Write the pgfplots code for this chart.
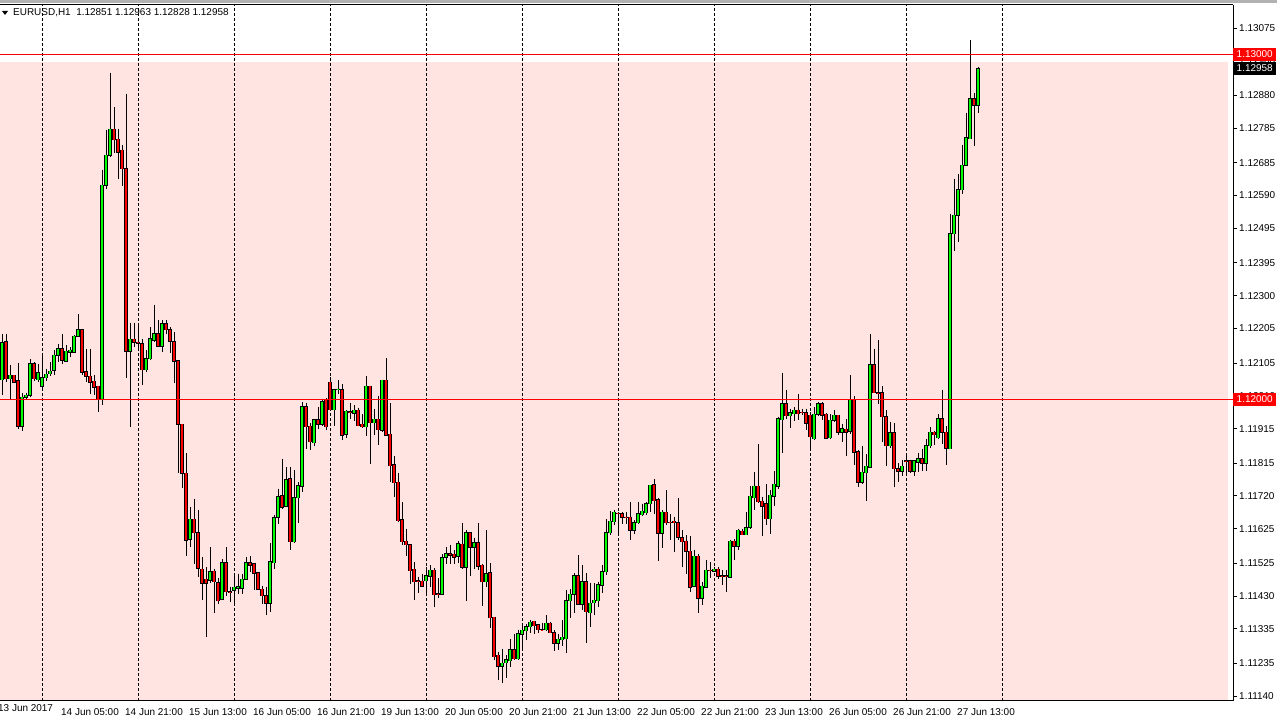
\documentclass[border=0pt]{standalone}
\usepackage{pgfplots}
\pgfplotsset{compat=1.18}
\usepackage{pgfplotstable}
\usepackage{fontspec}
\setmainfont{Liberation Sans}

\definecolor{bgpink}{RGB}{255,228,225}
\definecolor{bull}{RGB}{0,255,0}
\definecolor{bear}{RGB}{255,0,0}
\definecolor{lvl}{RGB}{255,0,0}

% EURUSD H1, bar index = hours since 14 Jun 00:00 (trading hours only)
\pgfplotstableread{
i O H L C
-10 1.12057 1.12190 1.12011 1.12164
-9 1.12167 1.12190 1.12050 1.12059
-8 1.12059 1.12098 1.11999 1.12069
-7 1.12069 1.12069 1.12047 1.12050
-6 1.12054 1.12106 1.11915 1.11922
-5 1.11922 1.12019 1.11908 1.12006
-4 1.12006 1.12019 1.12002 1.12011
-3 1.12011 1.12116 1.12006 1.12103
-2 1.12103 1.12108 1.12053 1.12059
-1 1.12057 1.12103 1.12050 1.12077
0 1.12037 1.12134 1.12026 1.12062
1 1.12062 1.12088 1.12053 1.12072
2 1.12074 1.12108 1.12066 1.12081
3 1.12084 1.12142 1.12069 1.12127
4 1.12127 1.12161 1.12108 1.12146
5 1.12146 1.12188 1.12103 1.12113
6 1.12111 1.12156 1.12108 1.12139
7 1.12137 1.12151 1.12122 1.12142
8 1.12137 1.12187 1.12134 1.12182
9 1.12182 1.12246 1.12180 1.12202
10 1.12202 1.12202 1.12069 1.12079
11 1.12079 1.12146 1.12050 1.12067
12 1.12066 1.12146 1.12016 1.12050
13 1.12052 1.12069 1.12011 1.12035
14 1.12037 1.12037 1.11963 1.12002
15 1.12002 1.12665 1.11982 1.12620
16 1.12620 1.12779 1.12610 1.12707
17 1.12707 1.12946 1.12702 1.12782
18 1.12782 1.12847 1.12712 1.12752
19 1.12753 1.12784 1.12639 1.12716
20 1.12721 1.12736 1.12617 1.12668
21 1.12668 1.12885 1.12062 1.12140
22 1.12140 1.12222 1.11919 1.12174
23 1.12174 1.12222 1.12151 1.12166
24 1.12165 1.12219 1.12149 1.12163
25 1.12161 1.12175 1.12040 1.12086
26 1.12086 1.12142 1.12079 1.12117
27 1.12117 1.12209 1.12115 1.12175
28 1.12171 1.12274 1.12166 1.12190
29 1.12190 1.12229 1.12151 1.12154
30 1.12154 1.12229 1.12137 1.12219
31 1.12219 1.12230 1.12188 1.12202
32 1.12202 1.12208 1.12133 1.12169
33 1.12167 1.12195 1.12046 1.12111
34 1.12111 1.12111 1.11785 1.11927
35 1.11927 1.11928 1.11744 1.11785
36 1.11785 1.11843 1.11546 1.11592
37 1.11594 1.11688 1.11572 1.11652
38 1.11652 1.11712 1.11524 1.11614
39 1.11614 1.11679 1.11484 1.11510
40 1.11507 1.11543 1.11418 1.11468
41 1.11478 1.11514 1.11312 1.11468
42 1.11476 1.11571 1.11468 1.11500
43 1.11502 1.11507 1.11381 1.11471
44 1.11469 1.11481 1.11408 1.11416
45 1.11420 1.11536 1.11418 1.11527
46 1.11527 1.11571 1.11430 1.11442
47 1.11442 1.11457 1.11413 1.11441
48 1.11447 1.11495 1.11411 1.11455
49 1.11452 1.11495 1.11437 1.11457
50 1.11453 1.11495 1.11437 1.11478
51 1.11478 1.11543 1.11476 1.11527
52 1.11527 1.11545 1.11500 1.11520
53 1.11524 1.11524 1.11447 1.11497
54 1.11497 1.11500 1.11447 1.11449
55 1.11449 1.11458 1.11408 1.11431
56 1.11431 1.11457 1.11374 1.11410
57 1.11410 1.11584 1.11384 1.11530
58 1.11527 1.11664 1.11507 1.11657
59 1.11659 1.11741 1.11640 1.11717
60 1.11720 1.11828 1.11683 1.11688
61 1.11691 1.11804 1.11688 1.11767
62 1.11770 1.11804 1.11563 1.11587
63 1.11587 1.11794 1.11584 1.11715
64 1.11715 1.11761 1.11642 1.11749
65 1.11749 1.11992 1.11732 1.11978
66 1.11978 1.11990 1.11857 1.11920
67 1.11922 1.11930 1.11852 1.11877
68 1.11874 1.11944 1.11864 1.11941
69 1.11941 1.11978 1.11915 1.11927
70 1.11927 1.12002 1.11922 1.11992
71 1.11997 1.12004 1.11912 1.11920
72 1.12049 1.12065 1.11968 1.11970
73 1.11970 1.12031 1.11922 1.12028
74 1.12028 1.12055 1.12016 1.12029
75 1.12028 1.12044 1.11883 1.11896
76 1.11898 1.11968 1.11889 1.11965
77 1.11963 1.11990 1.11944 1.11962
78 1.11960 1.11983 1.11937 1.11968
79 1.11968 1.11976 1.11922 1.11923
80 1.11928 1.11957 1.11918 1.11920
81 1.11920 1.12067 1.11893 1.12038
82 1.12038 1.12038 1.11812 1.11932
83 1.11932 1.11971 1.11896 1.11942
84 1.11942 1.12009 1.11867 1.11912
85 1.11910 1.12057 1.11905 1.12055
86 1.12055 1.12119 1.11893 1.11896
87 1.11899 1.11988 1.11761 1.11807
88 1.11811 1.11835 1.11717 1.11758
89 1.11759 1.11785 1.11645 1.11648
90 1.11651 1.11701 1.11577 1.11587
91 1.11589 1.11625 1.11545 1.11579
92 1.11579 1.11582 1.11464 1.11503
93 1.11507 1.11529 1.11418 1.11471
94 1.11474 1.11485 1.11439 1.11473
95 1.11473 1.11493 1.11459 1.11459
96 1.11474 1.11514 1.11432 1.11489
97 1.11488 1.11519 1.11456 1.11505
98 1.11505 1.11510 1.11398 1.11434
99 1.11437 1.11481 1.11423 1.11436
100 1.11435 1.11551 1.11434 1.11541
101 1.11543 1.11572 1.11524 1.11553
102 1.11553 1.11577 1.11524 1.11549
103 1.11551 1.11563 1.11524 1.11543
104 1.11546 1.11590 1.11526 1.11582
105 1.11580 1.11642 1.11509 1.11514
106 1.11514 1.11621 1.11416 1.11613
107 1.11613 1.11616 1.11487 1.11572
108 1.11572 1.11599 1.11509 1.11585
109 1.11585 1.11642 1.11505 1.11517
110 1.11519 1.11524 1.11400 1.11471
111 1.11471 1.11621 1.11456 1.11495
112 1.11497 1.11526 1.11336 1.11367
113 1.11369 1.11370 1.11244 1.11254
114 1.11258 1.11268 1.11186 1.11227
115 1.11227 1.11276 1.11179 1.11235
116 1.11237 1.11259 1.11193 1.11245
117 1.11243 1.11305 1.11225 1.11275
118 1.11274 1.11320 1.11245 1.11249
119 1.11249 1.11333 1.11245 1.11320
120 1.11319 1.11346 1.11276 1.11331
121 1.11330 1.11349 1.11302 1.11341
122 1.11341 1.11360 1.11322 1.11354
123 1.11357 1.11359 1.11319 1.11344
124 1.11346 1.11349 1.11324 1.11332
125 1.11333 1.11353 1.11328 1.11332
126 1.11333 1.11374 1.11330 1.11351
127 1.11351 1.11356 1.11322 1.11324
128 1.11324 1.11331 1.11272 1.11293
129 1.11293 1.11320 1.11274 1.11305
130 1.11304 1.11360 1.11286 1.11311
131 1.11306 1.11447 1.11264 1.11416
132 1.11416 1.11449 1.11365 1.11435
133 1.11435 1.11496 1.11380 1.11488
134 1.11488 1.11549 1.11404 1.11406
135 1.11406 1.11519 1.11389 1.11471
136 1.11471 1.11496 1.11293 1.11385
137 1.11382 1.11469 1.11339 1.11409
138 1.11411 1.11467 1.11375 1.11418
139 1.11416 1.11471 1.11399 1.11462
140 1.11462 1.11520 1.11438 1.11501
141 1.11500 1.11652 1.11491 1.11614
142 1.11613 1.11675 1.11606 1.11646
143 1.11645 1.11679 1.11636 1.11672
144 1.11670 1.11674 1.11607 1.11669
145 1.11669 1.11674 1.11639 1.11658
146 1.11658 1.11674 1.11638 1.11657
147 1.11658 1.11701 1.11592 1.11621
148 1.11621 1.11650 1.11610 1.11643
149 1.11642 1.11703 1.11639 1.11668
150 1.11666 1.11698 1.11662 1.11675
151 1.11671 1.11703 1.11665 1.11698
152 1.11698 1.11752 1.11674 1.11751
153 1.11752 1.11769 1.11669 1.11706
154 1.11708 1.11713 1.11532 1.11612
155 1.11612 1.11679 1.11568 1.11673
156 1.11672 1.11736 1.11635 1.11643
157 1.11644 1.11667 1.11592 1.11643
158 1.11646 1.11659 1.11558 1.11642
159 1.11643 1.11714 1.11593 1.11601
160 1.11599 1.11620 1.11514 1.11587
161 1.11589 1.11606 1.11495 1.11560
162 1.11560 1.11603 1.11442 1.11456
163 1.11459 1.11564 1.11456 1.11545
164 1.11545 1.11553 1.11382 1.11423
165 1.11423 1.11471 1.11403 1.11458
166 1.11456 1.11534 1.11454 1.11505
167 1.11505 1.11529 1.11483 1.11504
168 1.11502 1.11514 1.11500 1.11508
169 1.11507 1.11514 1.11480 1.11488
170 1.11489 1.11505 1.11461 1.11488
171 1.11488 1.11505 1.11442 1.11487
172 1.11485 1.11592 1.11484 1.11589
173 1.11589 1.11595 1.11534 1.11575
174 1.11575 1.11625 1.11563 1.11620
175 1.11617 1.11625 1.11606 1.11608
176 1.11608 1.11674 1.11606 1.11628
177 1.11630 1.11748 1.11625 1.11719
178 1.11715 1.11790 1.11678 1.11748
179 1.11748 1.11870 1.11700 1.11703
180 1.11705 1.11717 1.11603 1.11691
181 1.11698 1.11754 1.11635 1.11654
182 1.11654 1.11736 1.11611 1.11722
183 1.11720 1.11791 1.11691 1.11754
184 1.11749 1.11949 1.11741 1.11944
185 1.11941 1.12077 1.11843 1.11987
186 1.11987 1.12028 1.11944 1.11952
187 1.11952 1.11973 1.11917 1.11960
188 1.11958 1.11978 1.11936 1.11968
189 1.11968 1.12015 1.11939 1.11958
190 1.11962 1.11973 1.11954 1.11961
191 1.11961 1.11973 1.11910 1.11930
192 1.11954 1.11963 1.11850 1.11891
193 1.11886 1.11978 1.11881 1.11957
194 1.11957 1.11992 1.11951 1.11987
195 1.11987 1.11992 1.11941 1.11954
196 1.11957 1.11960 1.11886 1.11888
197 1.11889 1.11958 1.11886 1.11939
198 1.11939 1.11968 1.11934 1.11954
199 1.11954 1.11954 1.11896 1.11905
200 1.11905 1.11928 1.11876 1.11915
201 1.11913 1.11942 1.11835 1.11905
202 1.11907 1.12070 1.11900 1.11997
203 1.11997 1.12009 1.11809 1.11847
204 1.11847 1.11852 1.11746 1.11760
205 1.11760 1.11864 1.11754 1.11788
206 1.11787 1.11841 1.11705 1.11806
207 1.11804 1.12188 1.11802 1.12100
208 1.12100 1.12147 1.12018 1.12019
209 1.12019 1.12173 1.11987 1.12018
210 1.12019 1.12038 1.11876 1.11949
211 1.11949 1.11968 1.11807 1.11865
212 1.11865 1.11934 1.11859 1.11903
213 1.11903 1.11932 1.11746 1.11799
214 1.11799 1.11814 1.11760 1.11792
215 1.11792 1.11823 1.11777 1.11806
216 1.11822 1.11838 1.11777 1.11821
217 1.11822 1.11825 1.11787 1.11792
218 1.11792 1.11824 1.11777 1.11821
219 1.11818 1.11843 1.11789 1.11828
220 1.11828 1.11857 1.11792 1.11815
221 1.11815 1.11886 1.11792 1.11866
222 1.11865 1.11919 1.11860 1.11904
223 1.11904 1.11909 1.11867 1.11897
224 1.11889 1.11957 1.11886 1.11944
225 1.11944 1.12028 1.11870 1.11904
226 1.11904 1.11922 1.11809 1.11859
227 1.11857 1.12538 1.11855 1.12480
228 1.12480 1.12639 1.12430 1.12533
229 1.12533 1.12652 1.12456 1.12607
230 1.12607 1.12736 1.12594 1.12678
231 1.12678 1.12828 1.12675 1.12758
232 1.12755 1.13040 1.12755 1.12871
233 1.12871 1.12886 1.12734 1.12851
234 1.12851 1.12963 1.12828 1.12958
}\candles

\begin{document}
\begin{tikzpicture}[font=\fontsize{10}{12}\selectfont]
\fill[gray!60] (0bp,715bp) rectangle (1277bp,718bp);
\begin{axis}[
    at={(0bp,17bp)}, anchor=south west,
    width=1233bp, height=696bp, scale only axis,
    xmin=-10.5, xmax=297.75,
    ymin=1.11126, ymax=1.13142,
    set layers, clip mode=individual,
    axis x line*=box, axis y line*=right,
    axis line style={-, black, line width=1bp},
    xtick={5,21,...,229},
    xticklabels={14 Jun 05:00, 14 Jun 21:00, 15 Jun 13:00, 16 Jun 05:00,
        16 Jun 21:00, 19 Jun 13:00, 20 Jun 05:00, 20 Jun 21:00,
        21 Jun 13:00, 22 Jun 05:00, 22 Jun 21:00, 23 Jun 13:00,
        26 Jun 05:00, 26 Jun 21:00, 27 Jun 13:00},
    xtick style={draw=none},
    xticklabel style={anchor=north west, inner sep=0pt, xshift=-1bp, yshift=-3bp},
    extra x ticks={0,24,...,240},
    extra x tick labels={},
    extra x tick style={grid=major,
        major grid style={black, line width=1bp, dash pattern=on 3bp off 2bp}},
    ytick={1.11140,1.11235,1.11335,1.11430,1.11525,1.11625,1.11720,1.11815,
        1.11915,1.12010,1.12105,1.12205,1.12300,1.12395,1.12495,1.12590,
        1.12685,1.12785,1.12880,1.12980,1.13075},
    yticklabels={1.11140,1.11235,1.11335,1.11430,1.11525,1.11625,1.11720,1.11815,
        1.11915,1.12010,1.12105,1.12205,1.12300,1.12395,1.12495,1.12590,
        1.12685,1.12785,1.12880,1.12980,1.13075},
    scaled y ticks=false,
    tick align=outside, major tick length=4bp,
    ytick style={black, line width=1bp},
    yticklabel style={anchor=west, inner sep=0pt, xshift=2bp},
    tick label style={font=\fontsize{10}{12}\selectfont},
]
% background rectangle object
\addplot[on layer=axis background, draw=none, fill=bgpink]
    coordinates {(-20,1.10) (296.5,1.10) (296.5,1.12977) (-20,1.12977)} -- cycle;

% wicks
\addplot[draw=none, no markers,
    error bars/.cd, y dir=minus, y explicit, error mark=none,
    error bar style={draw=black, line width=1bp}]
    table[x=i, y=H, y error minus expr=\thisrow{H}-\thisrow{L}] {\candles};

% bull bodies
\addplot[draw=none, no markers,
    restrict expr to domain={\thisrow{C}-\thisrow{O}}{0:1},
    error bars/.cd, y dir=minus, y explicit, error mark=none,
    error bar style={draw=black, line width=3.4bp, shorten <=-0.6bp, shorten >=-0.6bp}]
    table[x=i, y=C, y error minus expr=\thisrow{C}-\thisrow{O}] {\candles};
\addplot[draw=none, no markers,
    restrict expr to domain={\thisrow{C}-\thisrow{O}}{0:1},
    error bars/.cd, y dir=minus, y explicit, error mark=none,
    error bar style={draw=bull, line width=1.4bp}]
    table[x=i, y=C, y error minus expr=\thisrow{C}-\thisrow{O}] {\candles};

% bear bodies
\addplot[draw=none, no markers,
    restrict expr to domain={\thisrow{C}-\thisrow{O}}{-1:0},
    error bars/.cd, y dir=minus, y explicit, error mark=none,
    error bar style={draw=black, line width=3.4bp, shorten <=-0.6bp, shorten >=-0.6bp}]
    table[x=i, y=O, y error minus expr=\thisrow{O}-\thisrow{C}] {\candles};
\addplot[draw=none, no markers,
    restrict expr to domain={\thisrow{C}-\thisrow{O}}{-1:0},
    error bars/.cd, y dir=minus, y explicit, error mark=none,
    error bar style={draw=bear, line width=1.4bp}]
    table[x=i, y=O, y error minus expr=\thisrow{O}-\thisrow{C}] {\candles};

% horizontal levels
\addplot[lvl, line width=1bp] coordinates {(-10.5,1.13) (297.75,1.13)};
\addplot[lvl, line width=1bp] coordinates {(-10.5,1.12) (297.75,1.12)};

\coordinate (l13) at (axis cs:297.75,1.13);
\coordinate (l12) at (axis cs:297.75,1.12);
\coordinate (lc) at (axis cs:297.75,1.12958);
\end{axis}

\node[fill=red, text=white, anchor=west, minimum width=43bp, minimum height=13bp, inner sep=0pt] at (l13) {1.13000};
\node[fill=black, text=white, anchor=west, minimum width=43bp, minimum height=13bp, inner sep=0pt] at (lc) {1.12958};
\node[fill=red, text=white, anchor=west, minimum width=43bp, minimum height=13bp, inner sep=0pt] at (l12) {1.12000};

\node[anchor=north west, inner sep=0pt] at (-2bp,14bp) {13 Jun 2017};

\fill (2bp,707bp) -- (8bp,707bp) -- (5bp,703bp) -- cycle;
\node[anchor=west, inner sep=0pt] at (13bp,705.5bp) {EURUSD,H1\ \ 1.12851 1.12963 1.12828 1.12958};

\pgfresetboundingbox
\useasboundingbox (0bp,0bp) rectangle (1277bp,718bp);
\end{tikzpicture}
\end{document}
